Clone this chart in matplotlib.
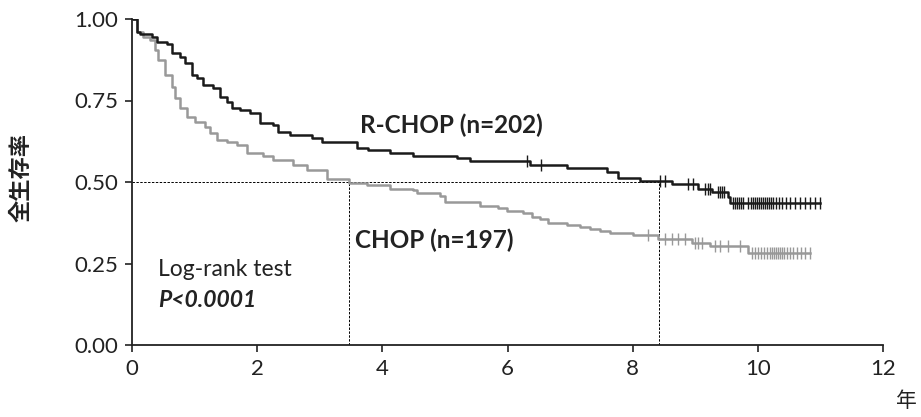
import matplotlib
matplotlib.use("Agg")
import matplotlib.pyplot as plt
import numpy as np

# R-CHOP step curve: event times (years) and survival after each step
rchop_t = [0, 0.08, 0.13, 0.32, 0.40, 0.56, 0.64, 0.77, 0.85, 0.96, 1.04, 1.13, 1.29, 1.41,
           1.52, 1.60, 1.73, 1.88, 2.04, 2.25, 2.33, 2.52, 2.88, 3.04, 3.59, 3.77, 4.12, 4.49,
           5.19, 5.40, 6.36, 6.95, 7.59, 7.76, 8.12, 8.63, 9.04, 9.27, 9.52, 9.55, 10.99]
rchop_s = [1.0, 0.96, 0.954, 0.945, 0.929, 0.923, 0.896, 0.883, 0.865, 0.828, 0.819, 0.798, 0.788, 0.761,
           0.745, 0.727, 0.721, 0.712, 0.681, 0.675, 0.653, 0.644, 0.635, 0.623, 0.604, 0.598, 0.589, 0.580,
           0.574, 0.564, 0.552, 0.543, 0.531, 0.512, 0.503, 0.494, 0.479, 0.469, 0.454, 0.436, 0.436]
rchop_cens = [6.31, 6.53, 8.43, 8.51, 8.88, 8.96, 9.15, 9.20, 9.23, 9.36, 9.39, 9.42, 9.46,
              9.60, 9.63, 9.66, 9.70, 9.73, 9.76, 9.84, 9.89, 9.92, 9.95, 9.98, 10.02, 10.05,
              10.08, 10.11, 10.14, 10.18, 10.21, 10.24, 10.29, 10.34, 10.38, 10.45, 10.51,
              10.59, 10.67, 10.75, 10.83, 10.91, 10.99]

# CHOP step curve
chop_t = [0, 0.08, 0.18, 0.29, 0.37, 0.42, 0.53, 0.64, 0.69, 0.77, 0.88, 1.01, 1.17, 1.25, 1.36,
          1.52, 1.68, 1.84, 2.09, 2.25, 2.57, 2.80, 3.12, 3.47, 3.75, 4.12, 4.49, 4.55, 4.92, 5.00,
          5.56, 5.85, 5.99, 6.25, 6.39, 6.52, 6.65, 6.95, 7.16, 7.32, 7.48, 7.64, 8.00, 8.40, 8.95,
          9.23, 9.84, 10.83]
chop_s = [1.0, 0.96, 0.945, 0.936, 0.905, 0.874, 0.828, 0.791, 0.758, 0.727, 0.699, 0.684, 0.669, 0.650, 0.629,
          0.623, 0.613, 0.589, 0.580, 0.567, 0.552, 0.537, 0.509, 0.497, 0.491, 0.479, 0.475, 0.466, 0.457, 0.439,
          0.426, 0.420, 0.411, 0.405, 0.393, 0.387, 0.374, 0.368, 0.362, 0.356, 0.350, 0.344, 0.337, 0.325, 0.313,
          0.304, 0.282, 0.282]
chop_cens = [8.24, 8.51, 8.63, 8.72, 8.83, 9.00, 9.04, 9.10, 9.31, 9.39, 9.52, 9.71,
             9.90, 9.95, 10.00, 10.05, 10.10, 10.14, 10.19, 10.22, 10.26, 10.29, 10.32, 10.35,
             10.38, 10.42, 10.46, 10.51, 10.56, 10.62, 10.69, 10.75, 10.83]

medians = [3.47, 8.42]
x_ticks = [0, 2, 4, 6, 8, 10, 12]
y_ticks = [0.0, 0.25, 0.5, 0.75, 1.0]
y_ticklabels = ["0.00", "0.25", "0.50", "0.75", "1.00"]


def surv_at(ts, ss, x):
    idx = np.searchsorted(ts, x, side="right") - 1
    return np.array(ss)[idx]


fig = plt.figure(figsize=(9.21, 4.17), dpi=100)
ax = fig.add_axes([132 / 921, (417 - 345) / 417, (883 - 132) / 921, (345 - 19) / 417])

font = "Lato"
cjk = ["Noto Sans CJK JP", "DejaVu Sans"]

black = "#1a1a1a"
gray = "#999999"
txt = "#222222"

ax.step(chop_t, chop_s, where="post", color=gray, lw=1.8, zorder=3)
ax.step(rchop_t, rchop_s, where="post", color=black, lw=1.8, zorder=4)
ax.plot(chop_cens, surv_at(chop_t, chop_s, chop_cens), ls="none", marker="|",
        ms=9, mew=1.0, color=gray, zorder=3)
ax.plot(rchop_cens, surv_at(rchop_t, rchop_s, rchop_cens), ls="none", marker="|",
        ms=9, mew=1.0, color=black, zorder=4)

# median reference lines
ax.plot([0, medians[1]], [0.5, 0.5], ls=(0, (2.5, 1.5)), color="black", lw=0.7, zorder=2)
for m in medians:
    ax.plot([m, m], [0, 0.5], ls=(0, (2.5, 1.5)), color="black", lw=0.7, zorder=2)

ax.set_xlim(0, 12)
ax.set_ylim(0, 1)
ax.spines["top"].set_visible(False)
ax.spines["right"].set_visible(False)
for sp in ("left", "bottom"):
    ax.spines[sp].set_linewidth(1.3)
    ax.spines[sp].set_color(txt)
ax.set_xticks(x_ticks)
ax.set_yticks(y_ticks)
ax.set_yticklabels(y_ticklabels)
ax.tick_params(axis="both", direction="out", length=5, width=1.2, colors=txt,
               labelsize=16, labelcolor=txt)
ax.tick_params(axis="x", pad=5)
ax.tick_params(axis="y", pad=5)
for lab in ax.get_xticklabels() + ax.get_yticklabels():
    lab.set_fontfamily(font)

ax.text(3.64, 0.675, "R-CHOP (n=202)", fontsize=17.5, fontweight="bold", family=font,
        color=txt, va="center", ha="left")
ax.text(3.56, 0.322, "CHOP (n=197)", fontsize=17.5, fontweight="bold", family=font,
        color=txt, va="center", ha="left")
ax.text(0.42, 0.232, "Log-rank test", fontsize=16.5, family=font, color=txt,
        va="center", ha="left")
ax.text(0.42, 0.138, "P<0.0001", fontsize=16.5, family=font, fontweight="bold",
        style="italic", color=txt, va="center", ha="left")

fig.text(21 / 921, 1 - 178 / 417, "全生存率", rotation=90, fontsize=16, fontweight="bold",
         family=cjk, color=txt, ha="center", va="center")
fig.text(906 / 921, 1 - 401 / 417, "年", fontsize=15, family=cjk, color=txt,
         ha="center", va="center")

fig.savefig("out.png", dpi=100)
